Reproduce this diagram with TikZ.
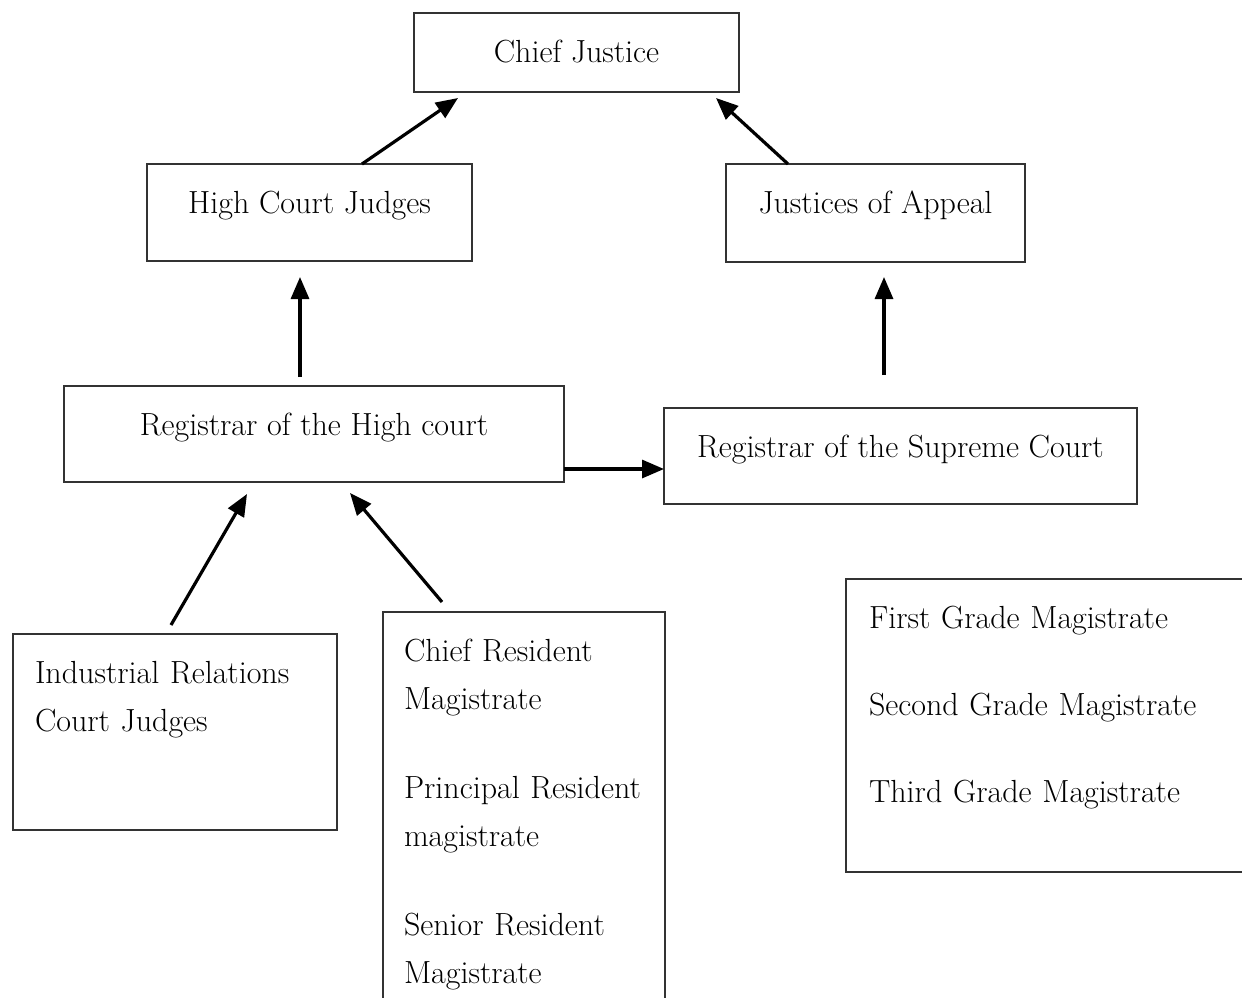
\documentclass[tikz,border=0pt]{standalone}
\usepackage{tikz}
\usetikzlibrary{arrows.meta}
\tikzset{
  every node/.style={font=\fontsize{32}{48}\selectfont},
  box/.style={draw=black!80,line width=1.6pt,inner ysep=0pt,inner xsep=0pt,outer sep=0pt,text height=49pt,anchor=north west},
  titlebox/.style 2 args={box,minimum width=#1,text depth=#2},
  listbox/.style 2 args={box,inner xsep=22pt,text width=#1,align=left,text depth=#2},
  link/.style={line width=3.2pt,-{Triangle[length=22pt,width=18pt]}}
}

\begin{document}
\begin{tikzpicture}[x=1pt,y=-1pt]
    \useasboundingbox (0,0) rectangle (1242,997);

    % judges
    \node[titlebox={325pt}{30pt}] (chief) at (414,13) {Chief Justice};
    \node[titlebox={325pt}{48pt}] (hcjudges) at (147,164) {High Court Judges};
    \node[titlebox={299pt}{49pt}] (appeal) at (726,164) {Justices of Appeal};

    % registrars
    \node[titlebox={500pt}{47pt}] (reghigh) at (64,386) {Registrar of the High court};
    \node[titlebox={473pt}{47pt}] (regsup) at (664,408) {Registrar of the Supreme Court};

    % lower courts
    \node[listbox={280pt}{147pt}] (industrial) at (13,634)
        {Industrial Relations\\Court Judges};
    \node[listbox={240pt}{349pt},inner xsep=21pt] (resident) at (383,612)
        {Chief Resident\\Magistrate\\[41pt]Principal Resident\\magistrate\\[41pt]Senior Resident\\Magistrate};
    \node[listbox={363pt}{244pt},inner xsep=23pt] (grades) at (846,579)
        {First Grade Magistrate\\[39pt]Second Grade Magistrate\\[39pt]Third Grade Magistrate};

    \draw[link] ([xshift=52.5pt]hcjudges.north) -- ([xshift=-118.5pt,yshift=-6pt]chief.south);
    \draw[link] ([xshift=-87.5pt]appeal.north) -- ([xshift=139.5pt,yshift=-6pt]chief.south);
    \draw[link] ([xshift=-14pt,yshift=9pt]reghigh.north) -- ([xshift=-9.5pt,yshift=-16pt]hcjudges.south);
    \draw[link] ([xshift=-16.5pt,yshift=33pt]regsup.north) -- ([xshift=8.5pt,yshift=-15pt]appeal.south);
    \draw[link] ([yshift=13pt]reghigh.south east) -- ([yshift=-13pt]regsup.west);
    \draw[link] ([xshift=-4pt,yshift=9pt]industrial.north) -- ([xshift=-67pt,yshift=-12pt]reghigh.south);
    \draw[link] ([xshift=-82pt,yshift=10pt]resident.north) -- ([xshift=36pt,yshift=-11pt]reghigh.south);
\end{tikzpicture}
\end{document}
